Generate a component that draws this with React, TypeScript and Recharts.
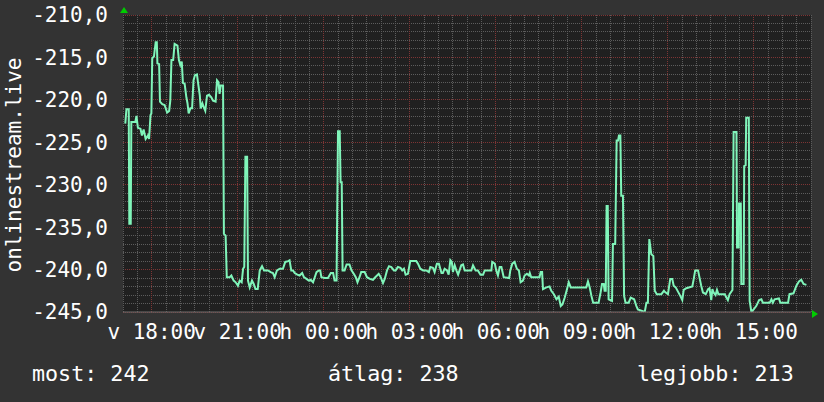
import React from 'react';
import { LineChart, Line, XAxis, YAxis, CartesianGrid, ReferenceLine } from 'recharts';

const FONT = '"DejaVu Sans Mono", monospace';

// hours since 17:00, ping value
const eveningPoints: [number, number][] = [
  [0.08, -222.8], [0.12, -221.1], [0.2, -221.1], [0.22, -234.6], [0.27, -234.6], [0.29, -222.6],
  [0.43, -222.6], [0.47, -221.9], [0.52, -223.3], [0.61, -223.4], [0.66, -224.2], [0.72, -223.5],
  [0.79, -224.6], [0.87, -224.2], [0.91, -224.6], [0.96, -221.8], [0.99, -221.6], [1.02, -215.1],
  [1.08, -214.9], [1.14, -213.2], [1.18, -213.2], [1.2, -215.7], [1.26, -215.8], [1.29, -220.2],
  [1.37, -220.5], [1.45, -220.6], [1.54, -221.5], [1.61, -221.3], [1.65, -220.1], [1.69, -215.3],
  [1.75, -215.3], [1.8, -213.4], [1.9, -213.6], [1.95, -215.3], [2.0, -215.9], [2.05, -215.5],
  [2.09, -218.0], [2.15, -218.1], [2.21, -219.7], [2.25, -220.4], [2.29, -221.6], [2.35, -221.0],
  [2.41, -221.0], [2.46, -217.7], [2.51, -217.1], [2.58, -217.0], [2.63, -218.3], [2.68, -219.5],
  [2.71, -221.0], [2.77, -220.4], [2.82, -220.9], [2.87, -221.3], [2.93, -219.5], [3.0, -219.4],
  [3.08, -219.7], [3.14, -220.1], [3.23, -220.2], [3.28, -217.7], [3.33, -217.9], [3.37, -219.3],
  [3.41, -218.3], [3.49, -218.3], [3.52, -235.8], [3.58, -236.0], [3.62, -240.9], [3.72, -240.9],
  [3.78, -240.7], [3.86, -241.3], [3.93, -241.5], [4.01, -241.9], [4.07, -241.3], [4.14, -241.5],
  [4.19, -239.9], [4.23, -239.7], [4.27, -226.7], [4.33, -226.7], [4.36, -241.3], [4.42, -242.1],
  [4.5, -241.3], [4.56, -241.7], [4.62, -242.3], [4.7, -242.3],
];

const nightPoints: [number, number][] = [
  [4.77, -240.1], [4.85, -239.6], [4.92, -240.1], [5.06, -240.1], [5.15, -240.3], [5.23, -240.4],
  [5.29, -240.9], [5.37, -240.1], [5.47, -239.9], [5.58, -239.9], [5.66, -239.1], [5.76, -239.0],
  [5.81, -238.9], [5.87, -240.1], [5.93, -240.1], [5.99, -240.4], [6.08, -240.6], [6.16, -240.7],
  [6.25, -240.4], [6.31, -240.9], [6.4, -241.1], [6.48, -241.3], [6.55, -241.2], [6.63, -241.5],
  [6.69, -240.9], [6.75, -240.3], [6.83, -240.1], [6.88, -240.1], [6.92, -240.9], [7.04, -241.0],
  [7.15, -241.0], [7.25, -240.4], [7.33, -240.4], [7.38, -241.3], [7.45, -241.3], [7.5, -223.7],
  [7.56, -223.7], [7.59, -229.7], [7.63, -229.7], [7.66, -240.1], [7.73, -240.1], [7.8, -239.4],
  [7.9, -239.4], [7.97, -240.1], [8.05, -240.5], [8.12, -240.9], [8.18, -241.5], [8.25, -240.9],
  [8.31, -240.3], [8.43, -240.3], [8.51, -240.9], [8.61, -241.1], [8.72, -241.2], [8.8, -240.9],
  [8.92, -240.5], [8.99, -240.9], [9.07, -241.6], [9.13, -241.1], [9.21, -240.1], [9.28, -239.6],
  [9.36, -239.7], [9.45, -240.1],
];

const earlyPoints: [number, number][] = [
  [9.51, -240.1], [9.59, -239.7], [9.68, -239.8], [9.74, -240.1], [9.8, -239.9], [9.86, -240.6],
  [9.94, -240.5], [10.02, -239.0], [10.23, -239.0], [10.29, -239.3], [10.37, -239.9], [10.47, -240.1],
  [10.58, -240.1], [10.67, -240.3], [10.72, -239.7], [10.81, -239.8], [10.87, -240.3], [10.95, -239.3],
  [11.02, -239.3], [11.11, -240.4], [11.16, -240.4], [11.22, -239.9], [11.3, -240.1], [11.36, -240.6],
  [11.42, -238.9], [11.47, -239.1], [11.51, -240.3], [11.57, -239.5], [11.63, -240.1], [11.69, -240.6],
  [11.74, -240.1], [11.8, -239.5], [11.86, -239.4], [11.92, -240.1], [12.15, -240.1], [12.21, -239.5],
  [12.3, -240.1], [12.38, -240.1], [12.47, -240.6], [12.56, -240.6], [12.62, -240.1], [12.85, -240.1],
  [12.88, -239.1], [12.97, -239.3], [13.02, -240.1], [13.08, -240.7], [13.14, -239.7], [13.2, -239.7],
  [13.28, -240.9], [13.47, -241.0], [13.51, -240.1], [13.58, -239.3], [13.66, -239.1], [13.74, -239.9],
  [13.81, -240.1], [13.87, -241.5], [13.95, -241.3], [14.01, -240.7], [14.09, -240.5], [14.16, -240.7],
];

const morningPoints: [number, number][] = [
  [14.19, -240.4], [14.24, -240.9], [14.53, -240.9], [14.57, -240.3], [14.62, -240.3], [14.65, -242.3],
  [14.77, -242.1], [14.88, -242.0], [14.94, -242.5], [15.03, -242.9], [15.12, -243.5], [15.2, -243.2],
  [15.27, -244.3], [15.33, -244.1], [15.41, -243.3], [15.49, -242.3], [15.55, -241.5], [15.62, -242.1],
  [16.16, -242.1], [16.22, -241.4], [16.28, -242.1], [16.34, -243.1], [16.4, -243.9], [16.59, -243.9],
  [16.66, -242.7], [16.71, -241.7], [16.77, -241.7], [16.8, -242.5], [16.84, -242.5], [16.87, -232.5],
  [16.91, -232.5], [16.94, -243.5], [17.06, -243.7], [17.09, -237.0], [17.17, -237.0], [17.22, -224.8],
  [17.27, -224.8], [17.3, -224.2], [17.35, -224.2], [17.38, -231.3], [17.44, -231.3], [17.48, -243.1],
  [17.53, -243.9], [17.64, -243.9], [17.71, -243.3], [17.83, -243.5], [17.91, -244.3], [17.96, -244.7],
  [18.2, -245.0], [18.26, -243.9], [18.31, -243.9], [18.36, -236.4], [18.43, -238.2], [18.5, -238.4],
  [18.55, -242.5], [18.62, -242.9], [18.78, -242.9], [18.87, -242.5],
];

const afternoonPoints: [number, number][] = [
  [18.89, -242.6], [19.01, -242.9], [19.09, -241.1], [19.16, -241.1], [19.21, -241.9], [19.28, -242.1],
  [19.36, -242.6], [19.44, -243.1], [19.51, -243.6], [19.56, -242.4], [19.65, -242.2], [19.86, -242.0],
  [19.91, -241.1], [19.96, -240.1], [20.06, -240.1], [20.12, -241.1], [20.17, -241.9], [20.23, -242.7],
  [20.33, -242.9], [20.41, -242.3], [20.46, -242.2], [20.52, -243.6], [20.56, -242.3], [20.6, -242.7],
  [20.67, -243.0], [20.72, -242.4], [20.77, -242.9], [20.91, -242.9], [20.99, -242.9], [21.05, -243.3],
  [21.1, -243.6], [21.16, -242.9], [21.26, -242.4], [21.3, -223.8], [21.4, -223.8], [21.42, -237.4],
  [21.48, -237.4], [21.49, -232.2], [21.55, -232.2], [21.57, -241.7], [21.65, -241.7], [21.67, -227.8],
  [21.72, -227.7], [21.74, -222.1], [21.83, -222.1], [21.86, -243.7], [21.92, -245.0], [22.0, -244.7],
  [22.09, -244.3], [22.19, -243.6], [22.27, -243.5], [22.32, -243.9], [22.56, -243.9], [22.62, -243.5],
  [22.67, -243.9], [22.73, -243.5], [22.88, -243.4], [22.93, -243.9], [23.2, -243.9], [23.25, -242.9],
  [23.39, -242.8], [23.49, -241.9], [23.58, -241.4], [23.66, -241.2], [23.74, -241.7], [23.84, -241.8],
];

const xTicks = [1, 4, 7, 10, 13, 16, 19, 22];
const xTickLabels = ['v 18:00', 'v 21:00', 'h 00:00', 'h 03:00', 'h 06:00', 'h 09:00', 'h 12:00', 'h 15:00'];
const yTicks = [-245, -240, -235, -230, -225, -220, -215, -210];
const seriesName = 'onlinestream.live';
const summaryLabels = ['most', 'átlag', 'legjobb'];
const summaryValues = [242, 238, 213];

const X_MIN = 0;
const X_MAX = 24;
const Y_MIN = -245;
const Y_MAX = -210;

const data = [...eveningPoints, ...nightPoints, ...earlyPoints, ...morningPoints, ...afternoonPoints].map(
  ([t, v]) => ({ t, v })
);

const range = (from: number, to: number, step: number) => {
  const out: number[] = [];
  for (let v = from; v <= to + 1e-9; v += step) out.push(Math.round(v * 100) / 100);
  return out;
};

const minorY = range(Y_MIN, Y_MAX, 1).filter((v) => v % 5 !== 0);
const majorY = yTicks;
const minorX = range(X_MIN, X_MAX, 0.5).filter((v) => !xTicks.includes(v));
const majorX = xTicks;

const MINOR = '#5c5c5c';
const MAJOR = '#7e3434';
const DASH = '1 1';

// snap to pixel centres so the dotted lines stay crisp
const snap = (p: number) => Math.round(p - 0.5) + 0.5;

const project = (axis: any, v: number, fallback: number) => {
  const s = axis?.scale;
  if (typeof s === 'function') return s(v);
  if (s && typeof s.map === 'function') return s.map(v);
  return fallback;
};

const hGen = (values: number[]) => ({ yAxis, offset }: any) =>
  values.map((v) =>
    snap(project(yAxis, v, offset.top + ((Y_MAX - v) / (Y_MAX - Y_MIN)) * offset.height))
  );

const vLine = (p: any) => (
  <line
    x1={snap(p.x1)}
    y1={p.y1}
    x2={snap(p.x2)}
    y2={p.y2}
    stroke={p.stroke}
    strokeWidth={1}
    strokeDasharray={p.strokeDasharray}
  />
);

const tickStyle = { fill: '#ffffff', fontSize: 21, fontFamily: FONT };

export default function App() {
  const summaryX = [32, 328, 637];
  return (
    <div style={{ position: 'absolute', left: 0, top: 0, width: 824, height: 402, background: '#333333' }}>
      <LineChart width={824} height={402} data={data} margin={{ top: 15, right: 13, bottom: 60, left: 0 }}>
        <CartesianGrid
          fill="#202020"
          stroke={MINOR}
          strokeDasharray={DASH}
          vertical={false}
          horizontalCoordinatesGenerator={hGen(minorY)}
        />
        <CartesianGrid
          stroke={MAJOR}
          strokeDasharray={DASH}
          vertical={false}
          horizontalCoordinatesGenerator={hGen(majorY)}
        />
        {minorX.map((v) => (
          <ReferenceLine
            key={`mx${v}`}
            x={v}
            stroke={MINOR}
            strokeDasharray={DASH}
            ifOverflow="visible"
            shape={vLine}
          />
        ))}
        {majorX.map((v) => (
          <ReferenceLine
            key={`Mx${v}`}
            x={v}
            stroke={MAJOR}
            strokeDasharray={DASH}
            ifOverflow="visible"
            shape={vLine}
          />
        ))}
        <XAxis
          dataKey="t"
          type="number"
          domain={[X_MIN, X_MAX]}
          ticks={xTicks}
          interval={0}
          allowDataOverflow
          tickFormatter={(v: number) => xTickLabels[xTicks.indexOf(v)] ?? ''}
          tick={tickStyle}
          tickSize={0}
          tickMargin={12}
          height={30}
          axisLine={{ stroke: '#6e6e6e' }}
        />
        <YAxis
          type="number"
          domain={[Y_MIN, Y_MAX]}
          ticks={yTicks}
          interval={0}
          allowDataOverflow
          tickFormatter={(v: number) => v.toFixed(1).replace('.', ',')}
          tick={tickStyle}
          tickSize={0}
          tickMargin={15}
          width={123}
          axisLine={false}
        />
        <Line
          type="linear"
          dataKey="v"
          name={seriesName}
          stroke="#80f5ba"
          strokeWidth={2}
          dot={false}
          isAnimationActive={false}
        />
      </LineChart>
      <svg
        width={824}
        height={402}
        style={{ position: 'absolute', left: 0, top: 0, pointerEvents: 'none' }}
      >
        <text
          x={20.5}
          y={165}
          transform="rotate(-90, 20.5, 165)"
          textAnchor="middle"
          fill="#ffffff"
          fontSize={21}
          fontFamily={FONT}
        >
          {seriesName}
        </text>
        {summaryLabels.map((label, i) => (
          <text key={label} x={summaryX[i]} y={381} fill="#ffffff" fontSize={21.7} fontFamily={FONT}>
            {`${label}: ${summaryValues[i]}`}
          </text>
        ))}
        <polygon points="120,13 128,13 124,7" fill="#00cc00" />
        <polygon points="812,310 812,318 818,314" fill="#00cc00" />
      </svg>
    </div>
  );
}
